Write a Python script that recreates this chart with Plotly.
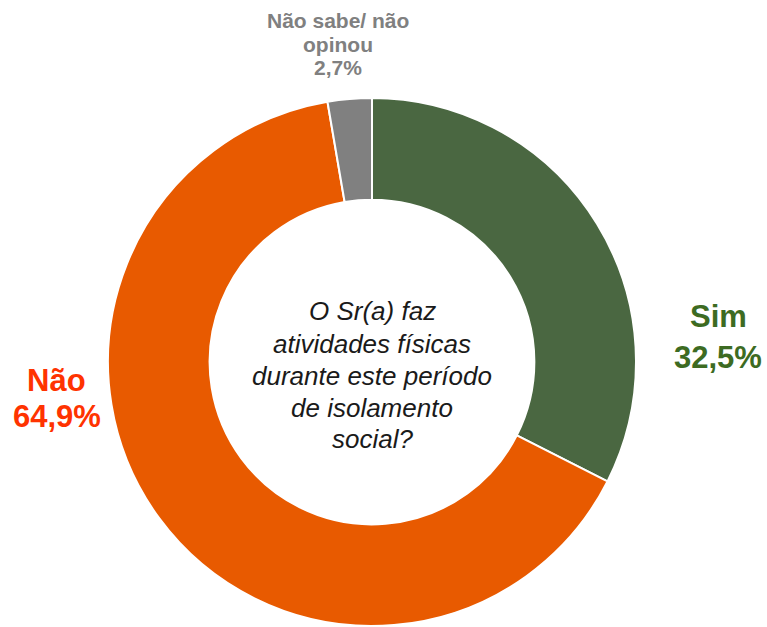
import plotly.graph_objects as go

categories = ["Sim", "Não", "Não sabe/ não opinou"]
values = [32.5, 64.9, 2.7]
value_labels = ["32,5%", "64,9%", "2,7%"]
colors = ["#4a6741", "#e85a00", "#808080"]
question_lines = ["O Sr(a) faz", "atividades físicas", "durante este período", "de isolamento", "social?"]

W, H = 767, 627
fig = go.Figure(go.Pie(
    labels=categories, values=values, sort=False, direction="clockwise", rotation=0,
    hole=0.615, textinfo="none", hoverinfo="label+percent",
    marker=dict(colors=colors, line=dict(color="white", width=2)),
    domain=dict(x=[108/W, 636/W], y=[1/H, 1-98/H]),
    showlegend=False,
))

font = "Liberation Sans, Arial, sans-serif"
ann = []


def add_lines(lines, xc, ys, size, color, bold=False, italic=False):
    for line, yc in zip(lines, ys):
        t = line
        if bold:
            t = f"<b>{t}</b>"
        if italic:
            t = f"<i>{t}</i>"
        ann.append(dict(text=t, x=xc/W, y=1-yc/H, xref="paper", yref="paper",
                        showarrow=False, font=dict(family=font, size=size, color=color),
                        xanchor="center", yanchor="middle"))


add_lines(question_lines, 372, [311, 343.5, 376, 408, 439], 26, "#1a1a1a", italic=True)
add_lines([categories[0], value_labels[0]], 718, [316, 357], 31, "#3d6b22", bold=True)
add_lines([categories[1], value_labels[1]], 57, [380, 416], 31, "#ff3300", bold=True)
add_lines(["Não sabe/ não", "opinou", value_labels[2]], 338, [20, 44, 68], 21, "#808080", bold=True)

fig.update_layout(width=W, height=H, margin=dict(l=0, r=0, t=0, b=0),
                  paper_bgcolor="white", plot_bgcolor="white", annotations=ann)
fig.write_html("out.html", config={"displayModeBar": False},
               post_script="document.body.style.margin='0px';document.body.style.overflow='hidden';")
